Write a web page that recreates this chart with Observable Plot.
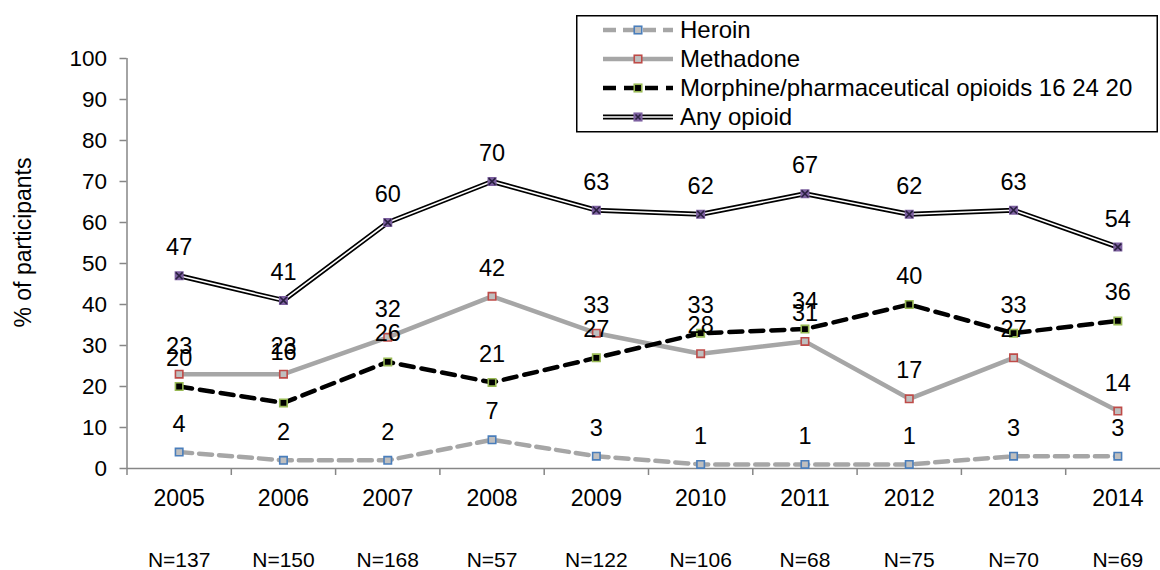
<!DOCTYPE html>
<html><head><meta charset="utf-8">
<script src="https://cdn.jsdelivr.net/npm/d3@7"></script>
<script src="https://cdn.jsdelivr.net/npm/@observablehq/plot@0.6"></script>
<style>
html,body{margin:0;padding:0;background:#fff;overflow:hidden;}
#wrap{position:relative;width:1160px;height:570px;font-family:"Liberation Sans",Arial,sans-serif;}
#legend{position:absolute;left:0;top:0;pointer-events:none;}
</style>
</head><body>
<div id="wrap"></div>
<script>
// ---- data ----
const years = [2005, 2006, 2007, 2008, 2009, 2010, 2011, 2012, 2013, 2014];
const nLabels = ["N=137", "N=150", "N=168", "N=57", "N=122", "N=106", "N=68", "N=75", "N=70", "N=69"];
const heroin = [4, 2, 2, 7, 3, 1, 1, 1, 3, 3];
const methadone = [23, 23, 32, 42, 33, 28, 31, 17, 27, 14];
const morphine = [20, 16, 26, 21, 27, 33, 34, 40, 33, 36];
const anyOpioid = [47, 41, 60, 70, 63, 62, 67, 62, 63, 54];
const seriesNames = ["Heroin", "Methadone", "Morphine/pharmaceutical opioids 16 24 20", "Any opioid"];
const yTicks = [0, 10, 20, 30, 40, 50, 60, 70, 80, 90, 100];
const yTitle = "% of participants";

// ---- styles ----
const styles = [
  {line: "#a6a6a6", width: 4.5, dash: "13,7", fill: "#bfbfbf", mstroke: "#4a7ebb"},
  {line: "#a6a6a6", width: 4.5, dash: null, fill: "#bfbfbf", mstroke: "#be4b48"},
  {line: "#000000", width: 4.5, dash: "13,8", fill: "#000000", mstroke: "#98b954"},
  {line: "#000000", width: 5, dash: null, fill: "#7d60a0", mstroke: "#7d60a0", double: true}
];
const seriesValues = [heroin, methadone, morphine, anyOpioid];
const tables = seriesValues.map((vals, s) => years.map((y, i) => ({year: y, value: vals[i], series: seriesNames[s]})));
const boundaries = d3.range(years.length + 1).map(i => years[0] - 0.5 + i);
const nByYear = new Map(years.map((y, i) => [y, nLabels[i]]));

const marks = [];
// axis lines
marks.push(Plot.ruleY([0], {stroke: "#868686", strokeWidth: 1.5}));
marks.push(Plot.ruleX([boundaries[0]], {y1: 0, y2: 100, stroke: "#868686", strokeWidth: 1.5}));
marks.push(Plot.axisY({ticks: yTicks, tickSize: 7, tickPadding: 13, stroke: "#868686", strokeWidth: 1.5, fill: "black", label: null, fontSize: 22.5}));
marks.push(Plot.axisX({ticks: boundaries, tickSize: 7, tickFormat: () => "", stroke: "#868686", strokeWidth: 1.5, label: null}));
marks.push(Plot.axisX({ticks: years, tickSize: 0, tickPadding: 21, tickFormat: d => String(d), fill: "black", label: null, fontSize: 23}));
marks.push(Plot.axisX({ticks: years, tickSize: 0, tickPadding: 84, tickFormat: d => nByYear.get(d), fill: "black", label: null, fontSize: 21}));
marks.push(Plot.text([yTitle], {frameAnchor: "left", textAnchor: "middle", rotate: -90, dx: -103, dy: -21, fontSize: 23, fill: "black"}));

// series
tables.forEach((t, s) => {
  const st = styles[s];
  marks.push(Plot.line(t, {x: "year", y: "value", stroke: st.line, strokeWidth: st.width, strokeDasharray: st.dash || undefined}));
  if (st.double) marks.push(Plot.line(t, {x: "year", y: "value", stroke: "white", strokeWidth: 1.6}));
  marks.push(Plot.dot(t, {x: "year", y: "value", symbol: "square", r: 4.2, fill: st.fill, stroke: st.mstroke, strokeWidth: 1.6}));
  if (st.double) marks.push(Plot.dot(t, {x: "year", y: "value", symbol: "times", r: 3.2, stroke: "#2a2040", strokeWidth: 1.6}));
});
// value labels (the 2006 morphine label sits higher in the original, overlapping methadone's)
tables.forEach((t, s) => {
  const shifted = s === 2 ? (d => d.year === 2006) : (() => false);
  marks.push(Plot.text(t, {filter: d => !shifted(d), x: "year", y: "value", text: d => String(d.value), dy: -28, fontSize: 23.5, fill: "black"}));
  marks.push(Plot.text(t, {filter: shifted, x: "year", y: "value", text: d => String(d.value), dy: -50, fontSize: 23.5, fill: "black"}));
});

const chart = Plot.plot({
  width: 1160,
  height: 570,
  marginLeft: 126.5,
  marginRight: 0,
  marginTop: 58,
  marginBottom: 102,
  style: {fontFamily: "'Liberation Sans', Arial, sans-serif", fontSize: "22px", color: "black", background: "white", overflow: "visible"},
  x: {type: "linear", domain: [boundaries[0], boundaries[boundaries.length - 1]], range: [126.5, 1169.5], axis: null},
  y: {domain: [0, 100], axis: null},
  marks
});
document.getElementById("wrap").appendChild(chart);

// ---- legend (overlay) ----
const lg = d3.select("#wrap").append("svg").attr("id", "legend").attr("width", 1160).attr("height", 140);
lg.append("rect").attr("x", 576.75).attr("y", 15.75).attr("width", 580.5).attr("height", 116).attr("fill", "white").attr("stroke", "black").attr("stroke-width", 1.5);
const rowY = [30, 59, 88, 117];
seriesNames.forEach((name, s) => {
  const st = styles[s];
  const g = lg.append("g").attr("transform", `translate(0,${rowY[s]})`);
  const ln = g.append("line").attr("x1", 603).attr("x2", 673).attr("y1", 0).attr("y2", 0)
    .attr("stroke", st.line).attr("stroke-width", st.width);
  if (st.dash) ln.attr("stroke-dasharray", st.dash);
  if (st.double) g.append("line").attr("x1", 603).attr("x2", 673).attr("y1", 0).attr("y2", 0).attr("stroke", "white").attr("stroke-width", 1.6);
  g.append("rect").attr("x", 638 - 3.75).attr("y", -3.75).attr("width", 7.5).attr("height", 7.5)
    .attr("fill", st.fill).attr("stroke", st.mstroke).attr("stroke-width", 1.6);
  if (st.double) g.append("path").attr("d", "M635.5,-2.5L640.5,2.5M635.5,2.5L640.5,-2.5").attr("stroke", "#2a2040").attr("stroke-width", 1.6);
  g.append("text").attr("x", 680).attr("y", 0).attr("dy", "0.35em")
    .attr("font-family", "'Liberation Sans', Arial, sans-serif").attr("font-size", 24).attr("fill", "black").text(name);
});
</script>
</body></html>
